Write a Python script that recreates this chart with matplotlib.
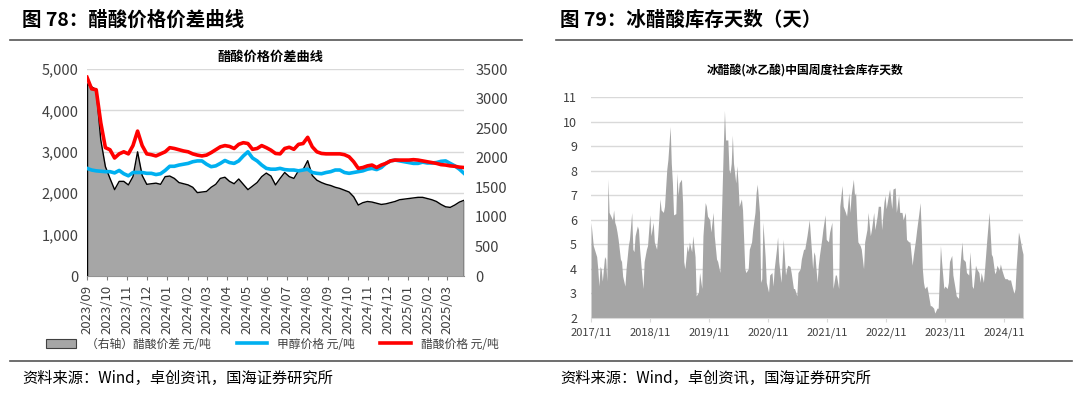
import numpy as np
import pandas as pd
import matplotlib
matplotlib.use("Agg")
import matplotlib.pyplot as plt
import matplotlib.dates as mdates
from matplotlib.ticker import FuncFormatter, MultipleLocator
from matplotlib.patches import Patch
from matplotlib.lines import Line2D

plt.rcParams['font.family'] = ['Noto Sans CJK SC', 'DejaVu Sans']

# ---- figure 78: weekly readings, 2023/09 - 2025/03 ----
acetic_price = [4800, 4520, 4500, 3700, 3100, 3050, 2850, 2950, 3000, 2950,
                3150, 3500, 3150, 2950, 2930, 2900, 2950, 3000, 3100, 3080,
                3050, 3020, 3000, 2950, 2920, 2900, 2920, 2980, 3050, 3120,
                3150, 3130, 3080, 3180, 3220, 3200, 3060, 3080, 3150, 3100,
                3040, 2960, 2950, 3080, 3110, 3060, 3180, 3200, 3350, 3120,
                3000, 2960, 2950, 2950, 2950, 2950, 2930, 2880, 2760, 2600,
                2620, 2660, 2680, 2620, 2680, 2720, 2780, 2800, 2800, 2800,
                2800, 2810, 2800, 2780, 2760, 2740, 2720, 2690, 2680, 2660,
                2650, 2630, 2620]
methanol_price = [2600, 2560, 2540, 2530, 2520, 2520, 2490, 2550, 2470, 2420,
                  2500, 2500, 2500, 2480, 2480, 2450, 2470, 2550, 2650, 2650,
                  2680, 2700, 2720, 2760, 2780, 2780, 2700, 2640, 2660, 2720,
                  2790, 2740, 2720, 2780, 2900, 3000, 2850, 2780, 2680, 2600,
                  2580, 2580, 2600, 2570, 2560, 2560, 2540, 2560, 2580, 2500,
                  2480, 2470, 2500, 2520, 2560, 2560, 2500, 2480, 2500, 2520,
                  2540, 2580, 2600, 2570, 2620, 2720, 2780, 2800, 2780, 2760,
                  2740, 2720, 2720, 2750, 2730, 2730, 2740, 2770, 2780, 2720,
                  2660, 2580, 2480]
acetic_spread = [3250, 3200, 3150, 2300, 1850, 1650, 1460, 1600, 1600, 1540,
                 1680, 2100, 1700, 1550, 1560, 1570, 1550, 1680, 1690, 1650,
                 1580, 1560, 1540, 1500, 1410, 1420, 1430, 1500, 1550, 1650,
                 1670, 1600, 1560, 1640, 1550, 1460, 1520, 1580, 1680, 1740,
                 1690, 1540, 1650, 1750, 1680, 1650, 1780, 1800, 1950, 1700,
                 1620, 1580, 1550, 1530, 1500, 1480, 1450, 1420, 1340, 1200,
                 1240, 1260, 1250, 1230, 1210, 1220, 1240, 1260, 1290, 1300,
                 1310, 1320, 1330, 1330, 1310, 1290, 1260, 1210, 1170, 1160,
                 1200, 1250, 1280]
dates78 = pd.date_range('2023-09-01', '2025-03-27', periods=len(acetic_price))
month_ticks = pd.date_range('2023-09-01', '2025-03-01', freq='MS')

# ---- figure 79: weekly inventory days, week index from 2017/11 ----
inv_week = [0, 2, 3, 5, 6, 7, 8, 9, 10, 12, 13, 14, 15, 16, 17, 19, 20, 21, 22, 23,
            24, 26, 27, 28, 30, 31, 33, 34, 36, 37, 38, 39, 41, 42, 43, 45, 46, 47, 49, 50,
            52, 53, 55, 56, 58, 59, 61, 62, 64, 65, 67, 68, 70, 71, 72, 73, 75, 76, 77, 78,
            80, 81, 82, 83, 85, 86, 87, 89, 90, 92, 93, 95, 96, 98, 99, 101, 102, 103, 105, 106,
            108, 109, 111, 112, 114, 115, 117, 118, 119, 121, 122, 123, 124, 125, 126, 128, 129, 130, 131, 133,
            134, 136, 137, 139, 140, 142, 143, 145, 146, 147, 149, 150, 151, 152, 154, 155, 157, 158, 160, 161,
            162, 164, 165, 166, 168, 169, 170, 172, 173, 174, 176, 177, 179, 180, 182, 183, 185, 186, 188, 189,
            191, 193, 195, 196, 197, 198, 200, 201, 202, 204, 205, 207, 208, 210, 211, 213, 214, 216, 217, 219,
            220, 222, 223, 225, 226, 228, 229, 230, 232, 233, 234, 235, 236, 238, 239, 241, 242, 244, 245, 247,
            248, 250, 251, 253, 254, 256, 257, 259, 260, 261, 263, 264, 266, 267, 269, 270, 272, 273, 275, 276,
            278, 279, 281, 282, 284, 285, 287, 288, 290, 291, 292, 293, 294, 295, 297, 298, 300, 301, 303, 304,
            306, 307, 309, 310, 312, 313, 315, 316, 317, 319, 320, 322, 323, 325, 326, 328, 329, 331, 332, 334,
            335, 337, 338, 340, 341, 343, 344, 345, 347, 348, 350, 352, 354, 355, 357, 358, 359, 361, 362, 363,
            365, 366, 368, 369, 371, 372, 374, 375, 376, 378, 379, 381, 382]
inv_days = [5.9, 4.95, 4.8, 4.5, 4.0, 3.3, 4.1, 4.0, 3.5, 4.5, 4.4, 3.5, 7.65, 6.3, 6.2, 6.0, 6.4, 5.9, 5.75, 5.5,
            5.2, 4.4, 4.3, 3.7, 3.3, 4.0, 4.95, 5.2, 6.3, 4.8, 4.7, 5.35, 5.75, 5.6, 4.8, 3.7, 3.2, 4.3, 4.8, 4.95,
            6.2, 5.35, 5.9, 5.1, 4.8, 5.35, 6.85, 6.4, 6.3, 6.55, 8.05, 8.45, 9.8, 8.3, 7.5, 6.2, 6.25, 7.9, 7.0, 7.5,
            7.65, 6.7, 4.3, 4.0, 4.95, 4.7, 5.1, 4.7, 5.35, 4.5, 2.9, 3.05, 3.85, 3.2, 5.35, 6.7, 6.55, 6.15, 6.0, 5.5,
            6.3, 5.35, 4.4, 4.3, 3.85, 5.6, 9.0, 10.45, 9.25, 9.25, 8.05, 7.9, 8.3, 9.45, 8.3, 7.5, 8.2, 7.5, 6.55, 6.85,
            6.4, 4.0, 3.85, 4.0, 4.8, 5.1, 5.6, 6.3, 7.1, 7.45, 6.3, 3.45, 3.6, 5.9, 4.5, 3.45, 3.05, 3.75, 3.85, 3.3,
            4.0, 4.8, 5.3, 4.3, 3.45, 4.3, 5.2, 3.75, 4.0, 4.15, 4.1, 3.85, 3.2, 3.2, 2.9, 3.85, 4.0, 4.4, 4.8, 4.8,
            5.35, 6.0, 4.7, 4.0, 4.7, 4.55, 3.45, 4.15, 4.55, 5.2, 5.6, 6.2, 5.2, 5.1, 5.5, 5.9, 3.2, 3.75, 3.75, 3.2,
            6.55, 7.4, 6.55, 6.3, 6.15, 7.1, 6.3, 7.0, 7.65, 7.0, 7.1, 5.9, 5.1, 4.95, 4.8, 4.0, 5.1, 5.6, 6.3, 5.35,
            5.6, 6.3, 5.6, 6.15, 6.55, 6.55, 5.6, 6.7, 7.0, 6.45, 7.0, 7.25, 6.45, 7.25, 7.3, 6.3, 7.0, 6.3, 6.3, 6.0,
            6.3, 5.2, 5.1, 5.1, 4.15, 4.55, 5.2, 5.6, 6.3, 6.7, 5.6, 4.0, 3.45, 3.2, 3.3, 3.05, 2.5, 2.5, 2.4, 2.2,
            2.4, 2.4, 4.95, 4.3, 3.2, 3.3, 3.2, 3.45, 4.3, 4.55, 3.75, 3.2, 2.9, 2.8, 4.0, 5.1, 4.4, 4.3, 3.85, 3.75,
            4.7, 3.3, 3.2, 4.15, 4.0, 3.85, 3.45, 3.85, 3.45, 4.0, 5.2, 6.3, 4.6, 4.5, 3.8, 3.9, 4.15, 3.95, 4.2, 4.0,
            3.7, 3.6, 3.6, 3.55, 3.55, 3.35, 3.0, 3.2, 4.1, 5.5, 5.3, 4.8, 4.6]
dates79 = pd.Timestamp('2017-11-01') + pd.to_timedelta(np.array(inv_week) * 7, unit='D')
year_ticks = pd.date_range('2017-11-01', '2024-11-01', freq='12MS')

RED = '#FF0000'
BLUE = '#00B0F0'
GREY = '#A6A6A6'
TXT = '#404040'

fig = plt.figure(figsize=(10.8, 3.94), dpi=100)

# headings, rules and source lines
fig.text(22 / 1080, 1 - 20 / 394, '图 78：醋酸价格价差曲线', fontsize=14, fontweight='bold', va='center')
fig.text(560 / 1080, 1 - 20 / 394, '图 79：冰醋酸库存天数（天）', fontsize=14, fontweight='bold', va='center')
fig.add_artist(Line2D([10 / 1080, 522 / 1080], [1 - 40 / 394] * 2, color='#555555', lw=1.2))
fig.add_artist(Line2D([556 / 1080, 1072 / 1080], [1 - 40 / 394] * 2, color='#555555', lw=1.2))
fig.add_artist(Line2D([10 / 1080, 1072 / 1080], [1 - 361 / 394] * 2, color='#555555', lw=1.2))
fig.text(22 / 1080, 1 - 378 / 394, '资料来源：Wind，卓创资讯，国海证券研究所', fontsize=11, va='center')
fig.text(560 / 1080, 1 - 378 / 394, '资料来源：Wind，卓创资讯，国海证券研究所', fontsize=11, va='center')

# ---- left chart ----
ax = fig.add_axes([87 / 1080, 1 - 276 / 394, 377 / 1080, 207 / 394])
ax.set_ylim(0, 5000)
ax.yaxis.set_major_locator(MultipleLocator(1000))
ax.yaxis.set_major_formatter(FuncFormatter(lambda v, p: f'{int(v):,}'))
ax.grid(axis='y', color='#D9D9D9', lw=1)
ax.set_axisbelow(True)
for s in ['top', 'right', 'left']:
    ax.spines[s].set_visible(False)
ax.spines['bottom'].set_color('#808080')
ax.tick_params(axis='y', length=0, labelsize=10.5, labelcolor=TXT, pad=6)
ax.set_xlim(dates78[0], dates78[-1])
ax.set_xticks(month_ticks)
ax.xaxis.set_major_formatter(mdates.DateFormatter('%Y/%m'))
ax.tick_params(axis='x', labelrotation=90, labelsize=9.5, labelcolor=TXT, length=3, color='#808080')

ax2 = ax.twinx()
ax2.set_ylim(0, 3500)
ax2.yaxis.set_major_locator(MultipleLocator(500))
ax2.fill_between(dates78, acetic_spread, 0, color=GREY, lw=0)
ax2.plot(dates78, acetic_spread, color='black', lw=1)
ax2.vlines([dates78[0], dates78[-1]], 0, [acetic_spread[0], acetic_spread[-1]], color='black', lw=1)
for s in ax2.spines.values():
    s.set_visible(False)
ax2.tick_params(axis='y', length=0, labelsize=10.5, labelcolor=TXT, pad=8)

ax3 = ax.twinx()
ax3.set_ylim(0, 5000)
ax3.plot(dates78, methanol_price, color=BLUE, lw=2.6)
ax3.plot(dates78, acetic_price, color=RED, lw=2.6)
ax3.axis('off')

fig.text(270 / 1080, 1 - 57 / 394, '醋酸价格价差曲线', fontsize=9.5, fontweight='bold', ha='center', va='center')

handles = [Patch(facecolor=GREY, edgecolor='#404040', lw=0.8),
           Line2D([0], [0], color=BLUE, lw=2.6),
           Line2D([0], [0], color=RED, lw=2.6)]
labels = ['（右轴）醋酸价差 元/吨', '甲醇价格 元/吨', '醋酸价格 元/吨']
fig.legend(handles, labels, loc='center', bbox_to_anchor=(272 / 1080, 1 - 344 / 394), ncol=3,
           frameon=False, fontsize=8.5, handlelength=2.6, handleheight=0.9, columnspacing=2.2,
           labelcolor=TXT)

# ---- right chart ----
bx = fig.add_axes([591 / 1080, 1 - 318 / 394, 432 / 1080, 221 / 394])
bx.fill_between(dates79, inv_days, 2, color='#A5A5A5', lw=0)
bx.set_ylim(2, 11)
bx.yaxis.set_major_locator(MultipleLocator(1))
bx.set_xlim(pd.Timestamp('2017-11-01'), dates79[-1])
bx.set_xticks(year_ticks)
bx.xaxis.set_major_formatter(mdates.DateFormatter('%Y/%m'))
bx.grid(axis='y', color='#D9D9D9', lw=1)
bx.set_axisbelow(True)
for s in ['top', 'right', 'left']:
    bx.spines[s].set_visible(False)
bx.spines['bottom'].set_color('#D9D9D9')
bx.tick_params(axis='y', length=0, labelsize=9, labelcolor=TXT, pad=10)
bx.tick_params(axis='x', labelsize=8, labelcolor=TXT, length=3, color='#D9D9D9')

fig.text(805 / 1080, 1 - 70 / 394, '冰醋酸(冰乙酸)中国周度社会库存天数', fontsize=8.5, fontweight='bold',
         ha='center', va='center')

fig.savefig('out.png', dpi=100)
